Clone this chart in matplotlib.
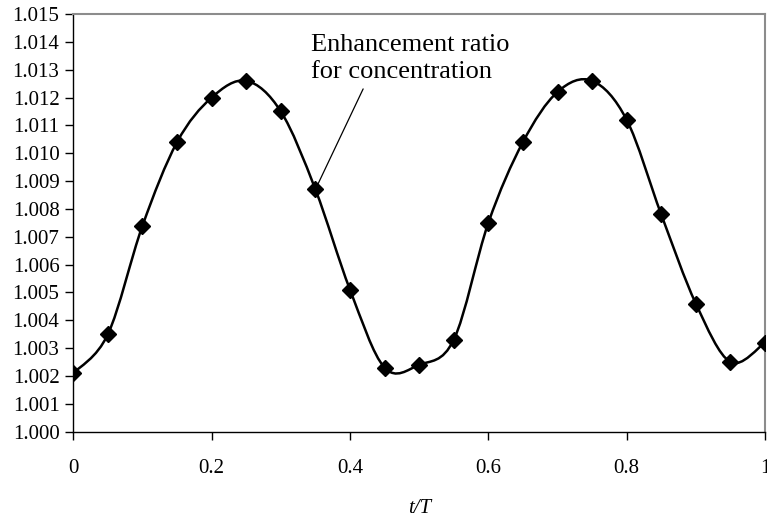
"""Enhancement ratio for concentration over one period (t/T)."""

import matplotlib

matplotlib.use("Agg")

import matplotlib.pyplot as plt
import numpy as np
from matplotlib.patches import PathPatch
from matplotlib.path import Path

t_over_T = [0.00, 0.05, 0.10, 0.15, 0.20, 0.25, 0.30, 0.35, 0.40, 0.45, 0.50,
            0.55, 0.60, 0.65, 0.70, 0.75, 0.80, 0.85, 0.90, 0.95, 1.00]
enhancement = [1.0021, 1.0035, 1.0074, 1.0104, 1.0120, 1.0126, 1.0115, 1.0087,
               1.0051, 1.0023, 1.0024, 1.0033, 1.0075, 1.0104, 1.0122, 1.0126,
               1.0112, 1.0078, 1.0046, 1.0025, 1.0032]

x_ticks = [0, 0.2, 0.4, 0.6, 0.8, 1.0]
x_tick_labels = ["0", "0.2", "0.4", "0.6", "0.8", "1"]
y_ticks = [1.000 + 0.001 * k for k in range(16)]
annotation_text = "Enhancement ratio\nfor concentration"


def smooth_path(x, y):
    """Spreadsheet-style smoothed line: cubic Bezier segments (Catmull-Rom)."""
    pts = np.column_stack([x, y])
    padded = np.vstack([pts[0], pts, pts[-1]])
    verts = [pts[0]]
    codes = [Path.MOVETO]
    for i in range(1, len(padded) - 2):
        p0, p1, p2, p3 = padded[i - 1], padded[i], padded[i + 1], padded[i + 2]
        c1 = p1 + (p2 - p0) / 6.0
        c2 = p2 - (p3 - p1) / 6.0
        verts.extend([c1, c2, p2])
        codes.extend([Path.CURVE4] * 3)
    return Path(verts, codes)


plt.rcParams["font.family"] = ["Liberation Serif", "DejaVu Serif"]

fig = plt.figure(figsize=(7.67, 5.23), dpi=100)
ax = fig.add_axes([0.0956, 0.1746, 0.9018, 0.7986])

curve = PathPatch(smooth_path(t_over_T, enhancement), fill=False,
                  edgecolor="black", linewidth=1.8, zorder=2)
ax.add_patch(curve)
ax.plot(t_over_T, enhancement, linestyle="none", marker="D", markersize=8,
        color="black", zorder=3)

ax.set_xlim(0, 1)
ax.set_ylim(1.000, 1.015)
ax.set_xticks(x_ticks)
ax.set_xticklabels(x_tick_labels)
ax.set_yticks(y_ticks)
ax.set_yticklabels([f"{v:.3f}" for v in y_ticks])
ax.tick_params(axis="both", direction="out", length=6, width=1,
               labelsize=15, colors="black")
ax.tick_params(axis="x", pad=14)
ax.tick_params(axis="y", pad=4)

for side in ("left", "bottom"):
    ax.spines[side].set_color("black")
    ax.spines[side].set_linewidth(1.0)
for side in ("top", "right"):
    ax.spines[side].set_color("#8c8c8c")
    ax.spines[side].set_linewidth(1.5)

ax.set_xlabel("t/T", fontsize=15, fontstyle="italic", labelpad=15)

ax.text(0.343, 1.0143, annotation_text, fontsize=19, ha="left", va="top",
        linespacing=1.3)
ax.annotate("", xy=(0.35, 1.0087), xytext=(0.419, 1.01231),
            arrowprops=dict(arrowstyle="-", color="black", linewidth=0.9,
                            shrinkA=0, shrinkB=4))

fig.savefig("out.png", dpi=100)
plt.close(fig)
